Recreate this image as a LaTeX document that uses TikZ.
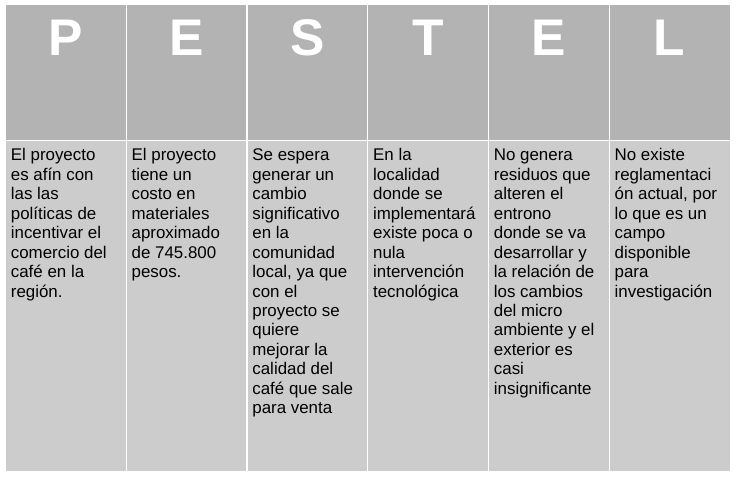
\documentclass[tikz,border=0pt]{standalone}
\usepackage{fontspec}
\setmainfont{Liberation Sans}
\definecolor{grisTete}{HTML}{B3B3B3}
\definecolor{grisCorps}{HTML}{CCCCCC}
\tikzset{
  lettre/.style={color=white, font=\fontsize{51.5}{51.5}\selectfont\bfseries, anchor=base, inner sep=0pt},
  texte/.style={color=black, font=\fontsize{16.9}{19.45}\selectfont, align=left, anchor=north west, inner sep=0pt},
  trait/.style={color=white, line width=1.2pt}
}
\begin{document}
\begin{tikzpicture}[x=1pt,y=-1pt]
\useasboundingbox [fill=white] (0,0) rectangle (739,480);

%% fonds
   \fill [grisTete] (5.5,5) rectangle (730,140.7);
   \fill [grisCorps] (5.5,140.7) rectangle (730,470.7);

%% traits blancs
   \draw [trait] (126.25,5) -- (126.25,470.7);
   \draw [trait] (247,5) -- (247,470.7);
   \draw [trait] (367.75,5) -- (367.75,470.7);
   \draw [trait] (488.5,5) -- (488.5,470.7);
   \draw [trait] (609.25,5) -- (609.25,470.7);
   \draw [trait] (5.5,140.7) -- (730,140.7);

%% lettres
\def\Haut{55}
   \node [lettre] (P) at (65.9,\Haut) {P};
   \node [lettre] (E) at (186.6,\Haut) {E};
   \node [lettre] (S) at (307.4,\Haut) {S};
   \node [lettre] (T) at (428.1,\Haut) {T};
   \node [lettre] (E2) at (548.9,\Haut) {E};
   \node [lettre] (L) at (669.6,\Haut) {L};

%% textes
\def\Bas{147.1}
   \node [texte] (politique) at (10.7,\Bas) {\strut El proyecto\\es afín con\\las las\\políticas de\\incentivar el\\comercio del\\café en la\\región.};
   \node [texte] (economique) at (131.45,\Bas) {\strut El proyecto\\tiene un\\costo en\\materiales\\aproximado\\de 745.800\\pesos.};
   \node [texte] (social) at (252.2,\Bas) {\strut Se espera\\generar un\\cambio\\significativo\\en la\\comunidad\\local, ya que\\con el\\proyecto se\\quiere\\mejorar la\\calidad del\\café que sale\\para venta};
   \node [texte] (technologique) at (372.95,\Bas) {\strut En la\\localidad\\donde se\\implementará\\existe poca o\\nula\\intervención\\tecnológica};
   \node [texte] (ecologique) at (493.7,\Bas) {\strut No genera\\residuos que\\alteren el\\entrono\\donde se va\\desarrollar y\\la relación de\\los cambios\\del micro\\ambiente y el\\exterior es\\casi\\insignificante};
   \node [texte] (legal) at (614.45,\Bas) {\strut No existe\\reglamentaci\\ón actual, por\\lo que es un\\campo\\disponible\\para\\investigación};

\end{tikzpicture}
\end{document}
